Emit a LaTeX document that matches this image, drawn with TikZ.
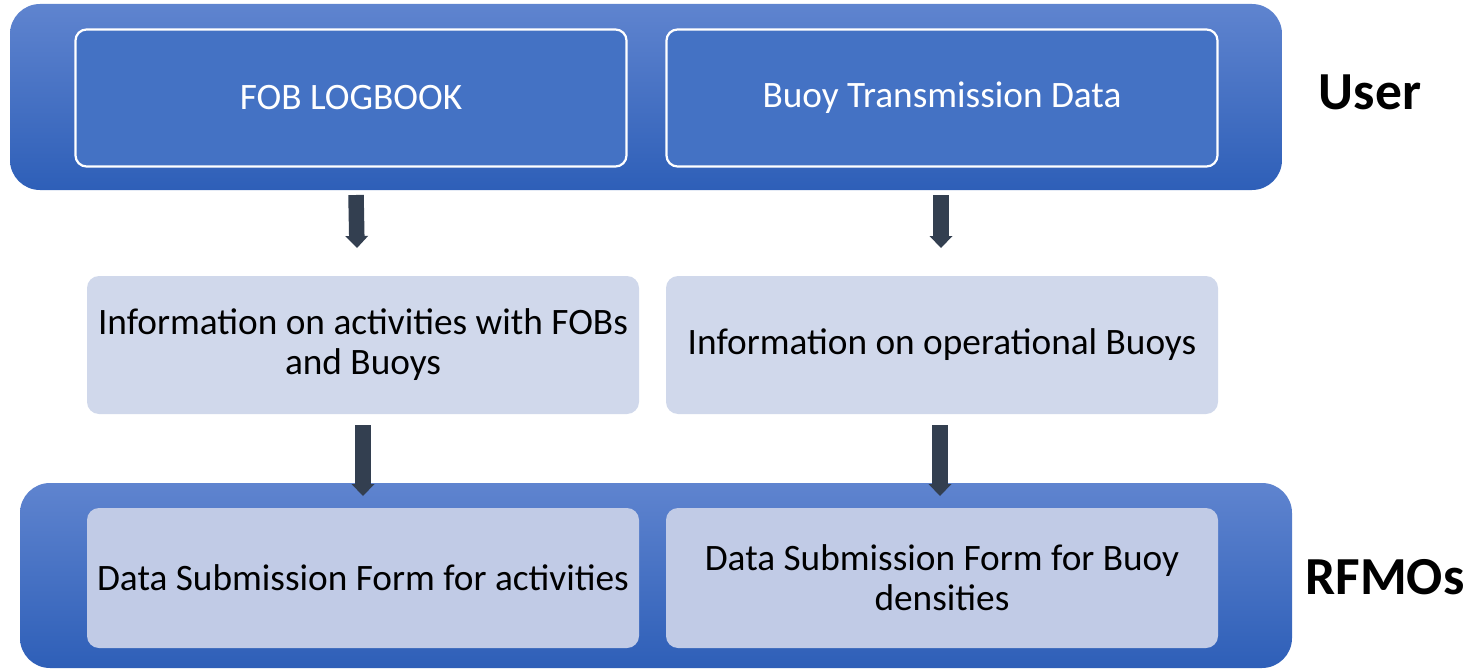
\documentclass[tikz,border=0pt]{standalone}
\usepackage{fontspec}
\setmainfont{Carlito}
\usetikzlibrary{arrows.meta}
\definecolor{bandtop}{HTML}{5F84CF}
\definecolor{bandbot}{HTML}{2E5FB8}
\definecolor{topbox}{HTML}{4472C4}
\definecolor{midbox}{HTML}{D0D8EB}
\definecolor{botbox}{HTML}{C1CBE6}
\definecolor{arrowcol}{HTML}{333F50}
\begin{document}
\begin{tikzpicture}[x=1pt,y=-1pt,
  band/.style={top color=bandtop, bottom color=bandbot, rounded corners=30pt,
    inner sep=0pt, minimum width=1272pt},
  upperbox/.style={fill=topbox, draw=white, line width=2.2pt, rounded corners=11pt,
    minimum width=551pt, minimum height=137pt, inner sep=0pt, text=white,
    font=\fontsize{37.3}{40}\selectfont, align=center},
  infobox/.style={fill=midbox, rounded corners=12pt, minimum width=552pt,
    minimum height=138pt, inner sep=0pt, text=black,
    font=\fontsize{37.3}{40}\selectfont, align=center},
  formbox/.style={infobox, fill=botbox, minimum height=140pt},
  sidelabel/.style={font=\fontsize{53.5}{60}\selectfont\bfseries, text=black},
  flow/.style={draw=arrowcol, line width=15.5pt,
    -{Triangle[width=23pt,length=12pt,line width=0pt]}}
]
\useasboundingbox (0,0) rectangle (1468,669);
% bands
\node[band, minimum height=186pt] (userband) at (646,97) {};
\node[band, minimum height=185pt] (rfmoband) at (656,575.5) {};
% top boxes
\node[upperbox] (fob) at (351,98) {FOB LOGBOOK};
\node[upperbox] (buoy) at (942,98) {Buoy Transmission Data};
% middle boxes
\node[infobox] (infoact) at (363,345) {Information on activities with FOBs\\and Buoys};
\node[infobox] (infobuoy) at (942,345) {Information on operational Buoys};
% bottom boxes
\node[formbox] (formact) at (363,578) {Data Submission Form for activities};
\node[formbox] (formbuoy) at (942,578) {Data Submission Form for Buoy\\densities};
% side labels
\node[sidelabel] (userlbl) at (1370,92) {User};
\node[sidelabel] (rfmolbl) at (1385,577) {RFMOs};
% arrows
\coordinate (a1s) at (356,195);
\coordinate (a1e) at (357,248);
\coordinate (a2s) at (941,195);
\coordinate (a2e) at (941,248);
\coordinate (a3s) at (363,425);
\coordinate (a3e) at (363,496);
\coordinate (a4s) at (940,425);
\coordinate (a4e) at (940,496);
\draw[flow] (a1s) -- (a1e);
\draw[flow] (a2s) -- (a2e);
\draw[flow] (a3s) -- (a3e);
\draw[flow] (a4s) -- (a4e);
\end{tikzpicture}
\end{document}
